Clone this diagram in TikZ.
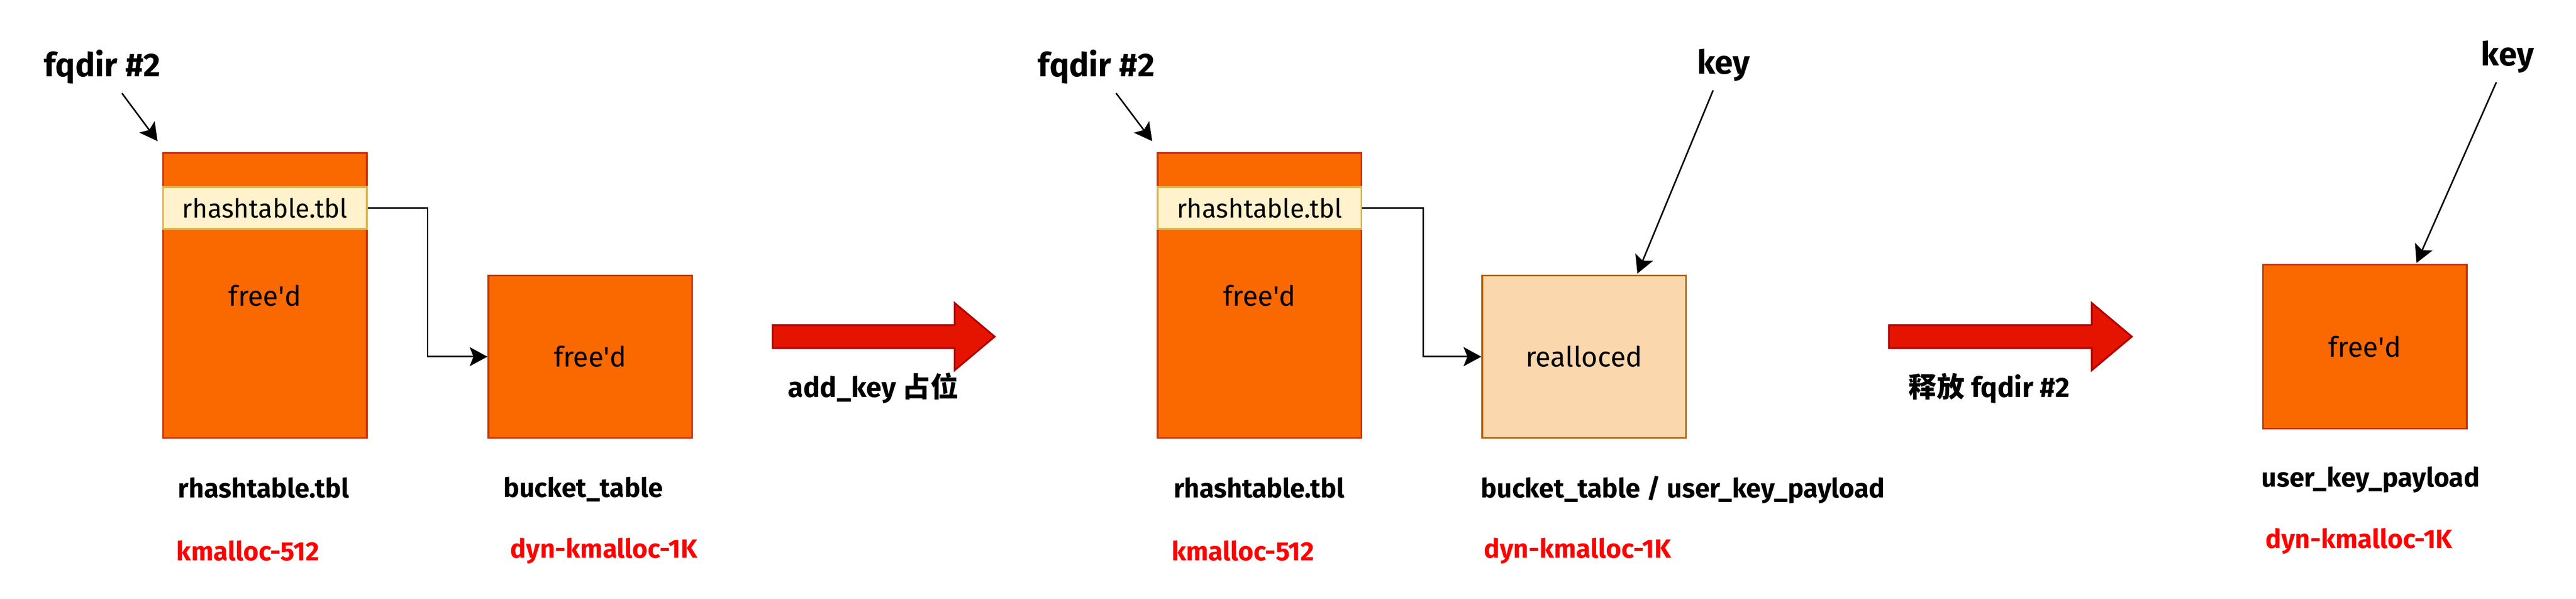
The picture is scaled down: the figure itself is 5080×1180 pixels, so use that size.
\documentclass[tikz,border=0pt]{standalone}
\usepackage{fontspec}
\setmainfont{Fira Sans}
\newfontfamily\cjk{Noto Sans CJK SC}
\usetikzlibrary{arrows.meta,shapes.arrows}

\definecolor{slab}{HTML}{FA6800}
\definecolor{slabline}{HTML}{C73500}
\definecolor{tblfill}{HTML}{FFF2CC}
\definecolor{tblline}{HTML}{D6B656}
\definecolor{keyfill}{HTML}{FAD7AC}
\definecolor{keyline}{HTML}{B46504}
\definecolor{stepfill}{HTML}{E51400}
\definecolor{stepline}{HTML}{B20000}
\definecolor{cachename}{HTML}{FF0000}

\begin{document}
\begin{tikzpicture}[
    x = 0.2pt,
    y = -0.2pt,
    semithick,
    >={Stealth[length=7pt,width=7.5pt,inset=1.5pt]},
    obj/.style = {
      draw = slabline,
      fill = slab,
      line width = 0.7pt,
      inner sep = 0pt,
      minimum width = 80.4pt,
      font = \fontsize{11}{13}\selectfont
    },
    tblrow/.style = {
      obj,
      draw = tblline,
      fill = tblfill,
      minimum height = 16.4pt,
      font = \fontsize{10.3}{12}\selectfont
    },
    bigarrow/.style = {
      single arrow,
      draw = stepline,
      fill = stepfill,
      line width = 0.7pt,
      inner xsep = 0pt,
      inner ysep = 4.2pt,
      minimum width = 25.8pt,
      single arrow head extend = 8.7pt,
      single arrow tip angle = 80
    },
    tag/.style = {
      font = \fontsize{13}{15}\selectfont\bfseries
    },
    objname/.style = {
      font = \fontsize{10.5}{12}\selectfont\bfseries
    },
    cache/.style = {
      objname,
      font = \fontsize{10.4}{12}\selectfont\bfseries,
      text = cachename
    }
  ]
  \useasboundingbox (0,0) rectangle (5080,1180);

  \node[obj, minimum height = 112.2pt] (objA) at (522.5,582.5) {free\textquotesingle d};
  \node[tblrow] (tblA) at (522.5,410) {rhashtable.tbl};
  \node[obj, minimum height = 64pt] (bktA) at (1164,703) {free\textquotesingle d};

  \node[tag] (fqdirA) at (202,132) {fqdir \#2};
  \draw[->] ([shift={(33,49)}]fqdirA) -- ([shift={(-9,-22)}]objA.north west);
  \draw[->] (tblA.east) -- ++(118,0) |- (bktA.west);

  \node[objname] (nameA) at (520,961) {rhashtable.tbl};
  \node[objname] (nameB) at (1150,965) {bucket\_table};
  \node[cache] (cacheA) at (489,1086) {kmalloc-512};
  \node[cache] (cacheB) at (1191,1086) {dyn-kmalloc-1K};


  \node[bigarrow, minimum height = 87.6pt] (stepA) at (1729,663.5) {};
  \node[tag, font = \fontsize{11}{13}\selectfont\bfseries] (stepAtext) at (1722,765) {add\_key {\cjk 占位}};


  \node[obj, minimum height = 112.2pt] (objB) at (2484,582.5) {free\textquotesingle d};
  \node[tblrow] (tblB) at (2484,410) {rhashtable.tbl};
  \node[obj, minimum height = 64pt, draw = keyline, fill = keyfill] (keyobjB) at (3124,703) {realloced};

  \node[tag] (fqdirB) at (2162,132) {fqdir \#2};
  \draw[->] ([shift={(36,50)}]fqdirB) -- ([shift={(-9,-22)}]objB.north west);
  \draw[->] (tblB.east) -- ++(120,0) |- (keyobjB.west);

  \node[tag] (keyB) at (3399,128) {key};
  \draw[->] ([shift={(-3,59)}]keyB) -- ([shift={(105,-2)}]keyobjB.north);

  \node[objname] (nameC) at (2483,961) {rhashtable.tbl};
  \node[objname] (nameD) at (3319,965) {bucket\_table / user\_key\_payload};
  \node[cache] (cacheC) at (2451,1086) {kmalloc-512};
  \node[cache] (cacheD) at (3111,1086) {dyn-kmalloc-1K};


  \node[bigarrow, minimum height = 95.8pt] (stepB) at (3951,663.5) {};
  \node[tag, font = \fontsize{11}{13}\selectfont\bfseries] (stepBtext) at (3923,765) {{\cjk 释放} fqdir \#2};


  \node[obj, minimum height = 64.6pt] (keyobjC) at (4663.5,683.5) {free\textquotesingle d};

  \node[tag] (keyC) at (4945,112) {key};
  \draw[->] ([shift={(-8,55)}]keyC) -- ([shift={(102,-2)}]keyobjC.north);

  \node[objname] (nameE) at (4675,946) {user\_key\_payload};
  \node[cache] (cacheE) at (4652,1067) {dyn-kmalloc-1K};
\end{tikzpicture}
\end{document}
